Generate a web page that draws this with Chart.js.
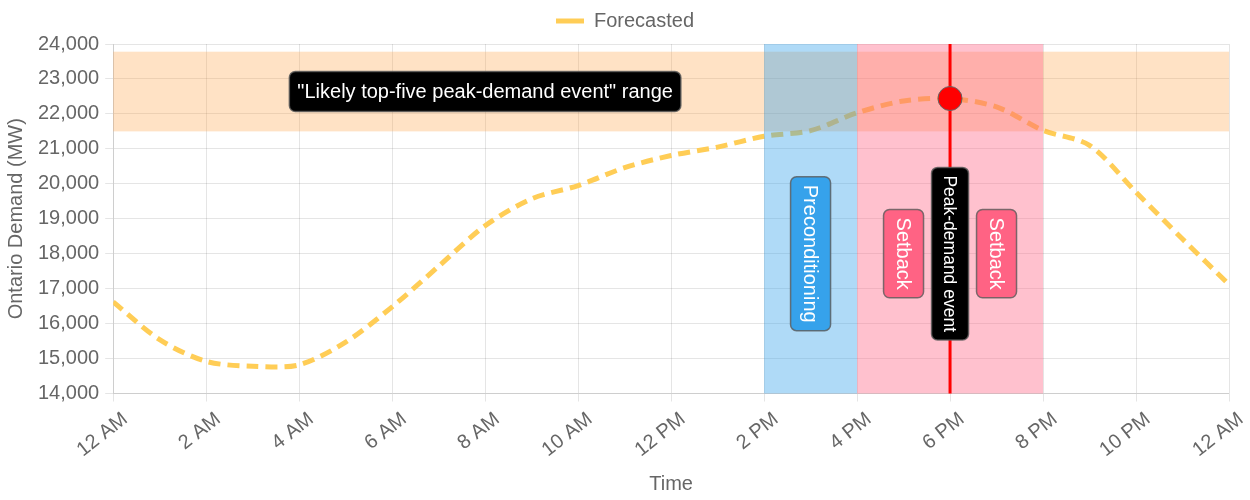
<!DOCTYPE html>
<html>
<head>
<meta charset="utf-8">
<script src="https://cdn.jsdelivr.net/npm/chart.js@4"></script>
<style>
  html, body { margin: 0; padding: 0; background: #fff; }
  #box { width: 1250px; height: 500px; }
</style>
</head>
<body>
<div id="box"><canvas id="graphe"></canvas></div>
<script>
// heures de la journée (0 = minuit)
const hours = [0, 1, 2, 3, 4, 5, 6, 7, 8, 9, 10, 11, 12, 13, 14, 15, 16, 17, 18, 19, 20, 21, 22, 23, 24];
// demande prévue (MW)
const forecasted = [16620, 15540, 14920, 14780, 14820, 15470, 16480, 17640, 18800, 19570, 19950, 20460, 20810, 21050, 21360, 21520,
                    22030, 22370, 22440, 22200, 21530, 21100, 19760, 18420, 17120];
const xTickLabels = ['12 AM', '2 AM', '4 AM', '6 AM', '8 AM', '10 AM', '12 PM', '2 PM', '4 PM', '6 PM', '8 PM', '10 PM', '12 AM'];

// zones d'annotation
const peakRange = [21500, 23780];
const preconditioning = [14, 16];
const setback = [16, 20];
const peakHour = 18;
const peakValue = 22440;
const labelLevel = 18000;

const FONT = "Arial, 'Liberation Sans', sans-serif";

function drawLabel(ctx, text, cx, cy, vertical, bg, size) {
    ctx.save();
    ctx.font = size + 'px ' + FONT;
    const w = ctx.measureText(text).width + 16;
    const h = Math.round(size * 1.2) + 16;
    ctx.translate(cx, cy);
    if (vertical) ctx.rotate(Math.PI / 2);
    ctx.beginPath();
    ctx.roundRect(-w / 2, -h / 2, w, h, 6);
    ctx.fillStyle = bg;
    ctx.fill();
    ctx.lineWidth = 1.5;
    ctx.strokeStyle = 'rgba(90,90,90,0.8)';
    ctx.stroke();
    ctx.fillStyle = '#fff';
    ctx.textAlign = 'center';
    ctx.textBaseline = 'middle';
    ctx.fillText(text, 0, 1);
    ctx.restore();
}

// petit plugin maison à la place de chartjs-plugin-annotation
const annotations = {
    id: 'annotations',
    beforeInit(chart) {
        // un peu plus d'espace sous la légende
        const fit = chart.legend.fit;
        chart.legend.fit = function () {
            fit.call(this);
            this.height += 3;
        };
    },
    afterDatasetsDraw(chart) {
        const ctx = chart.ctx;
        const x = chart.scales.x;
        const y = chart.scales.y;
        const area = chart.chartArea;

        ctx.save();
        // bande "top-five"
        ctx.fillStyle = 'rgba(255,159,64,0.3)';
        ctx.fillRect(area.left, y.getPixelForValue(peakRange[1]), area.right - area.left,
            y.getPixelForValue(peakRange[0]) - y.getPixelForValue(peakRange[1]));

        // préconditionnement
        ctx.fillStyle = 'rgba(54,162,235,0.4)';
        ctx.fillRect(x.getPixelForValue(preconditioning[0]), area.top,
            x.getPixelForValue(preconditioning[1]) - x.getPixelForValue(preconditioning[0]), area.bottom - area.top);

        // setback
        ctx.fillStyle = 'rgba(255,99,132,0.4)';
        ctx.fillRect(x.getPixelForValue(setback[0]), area.top,
            x.getPixelForValue(setback[1]) - x.getPixelForValue(setback[0]), area.bottom - area.top);

        // ligne du pic
        const px = x.getPixelForValue(peakHour);
        ctx.strokeStyle = 'red';
        ctx.lineWidth = 3;
        ctx.beginPath();
        ctx.moveTo(px, area.top);
        ctx.lineTo(px, area.bottom);
        ctx.stroke();
        ctx.restore();

        const ly = y.getPixelForValue(labelLevel);
        drawLabel(ctx, '"Likely top-five peak-demand event" range', x.getPixelForValue(8),
            (y.getPixelForValue(peakRange[0]) + y.getPixelForValue(peakRange[1])) / 2, false, '#000', 20);
        drawLabel(ctx, 'Preconditioning', x.getPixelForValue(15), ly, true, '#36a2eb', 20);
        drawLabel(ctx, 'Setback', x.getPixelForValue(17), ly, true, '#ff6384', 20);
        drawLabel(ctx, 'Setback', x.getPixelForValue(19), ly, true, '#ff6384', 20);
        drawLabel(ctx, 'Peak-demand event', px, ly, true, '#000', 17.5);

        // point du pic
        ctx.save();
        ctx.beginPath();
        ctx.arc(px, y.getPixelForValue(peakValue), 12, 0, Math.PI * 2);
        ctx.fillStyle = 'red';
        ctx.fill();
        ctx.lineWidth = 1;
        ctx.strokeStyle = 'rgb(100,100,100)';
        ctx.stroke();
        ctx.restore();
    }
};

Chart.defaults.font.family = FONT;
Chart.defaults.font.size = 20;
Chart.defaults.color = '#666';

const ctx = document.getElementById('graphe').getContext('2d');
new Chart(ctx, {
    type: 'line',
    data: {
        datasets: [{
            label: 'Forecasted',
            data: hours.map((h, i) => ({ x: h, y: forecasted[i] })),
            borderColor: '#ffcd56',
            backgroundColor: '#ffcd56',
            borderWidth: 5,
            borderDash: [12, 7],
            pointRadius: 0,
            tension: 0.3,
            fill: false
        }]
    },
    options: {
        responsive: true,
        maintainAspectRatio: false,
        animation: false,
        plugins: {
            legend: {
                labels: {
                    boxWidth: 28,
                    boxHeight: 5,
                    padding: 11,
                    generateLabels(chart) {
                        const items = Chart.defaults.plugins.legend.labels.generateLabels(chart);
                        items.forEach(it => { it.lineWidth = 0; it.lineDash = []; });
                        return items;
                    }
                }
            },
            tooltip: { enabled: false }
        },
        scales: {
            x: {
                type: 'linear',
                min: 0,
                max: 24,
                title: { display: true, text: 'Time' },
                ticks: {
                    stepSize: 2,
                    minRotation: 38,
                    maxRotation: 38,
                    padding: 6,
                    labelOffset: 12,
                    callback: v => xTickLabels[v / 2]
                },
                afterFit(scale) {
                    scale.paddingRight = Math.max(scale.paddingRight, 21);
                }
            },
            y: {
                min: 14000,
                max: 24000,
                title: { display: true, text: 'Ontario Demand (MW)' },
                ticks: { stepSize: 1000, padding: 6 }
            }
        }
    },
    plugins: [annotations]
});
</script>
</body>
</html>
